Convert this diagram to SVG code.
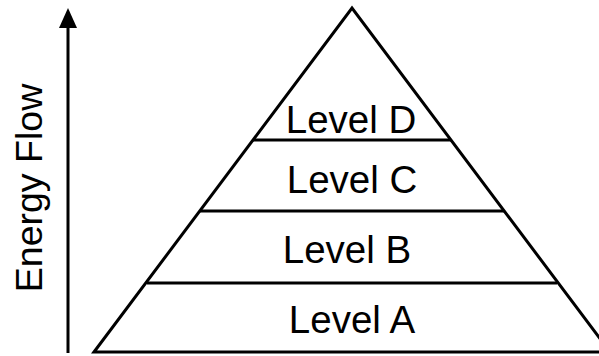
<svg xmlns="http://www.w3.org/2000/svg" width="599" height="356" viewBox="0 0 599 356">
<style>
.s{stroke:#000;stroke-width:3;fill:none}
.t{font-family:"Liberation Sans",Arial,sans-serif;font-size:38.5px;fill:#000;text-anchor:middle}
.e{font-size:37.5px}
</style>
<rect width="599" height="356" fill="#fff"/>
<g id="pyramid">
<path class="s" d="M94,352 L352,8 L610,352 Z" stroke-linejoin="miter"/>
</g>
<g id="connectors">
<line class="s" x1="253" y1="140" x2="451" y2="140"/>
<line class="s" x1="200" y1="211" x2="504" y2="211"/>
<line class="s" x1="147" y1="283" x2="557" y2="283"/>
<line class="s" x1="68" y1="353" x2="68" y2="28"/>
<path d="M68,8 L77,28 L59,28 Z" fill="#000"/>
</g>
<g id="levelD"><text class="t" x="351" y="133">Level D</text></g>
<g id="levelC"><text class="t" x="352" y="193">Level C</text></g>
<g id="levelB"><text class="t" x="347" y="263">Level B</text></g>
<g id="levelA"><text class="t" x="352" y="333">Level A</text></g>
<g id="energy"><text class="t e" transform="translate(42,188) rotate(-90)">Energy Flow</text></g>
</svg>
